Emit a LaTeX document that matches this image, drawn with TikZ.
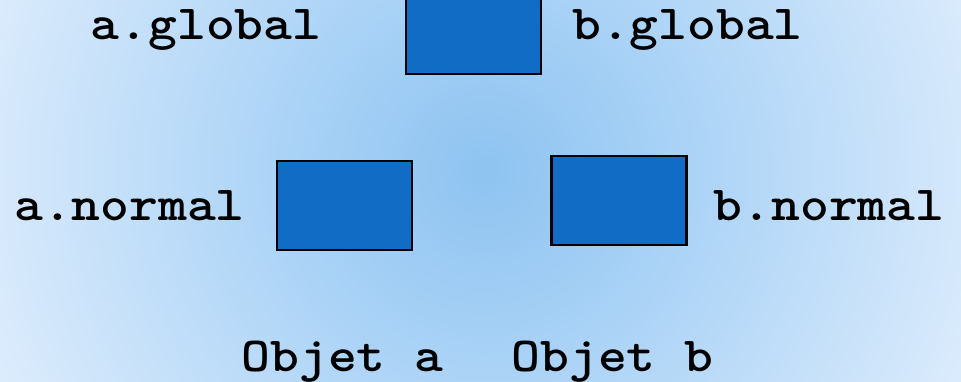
\documentclass[tikz,border=0pt]{standalone}
\usepackage{fontspec}
% bold typewriter face, widened to a Courier-like advance
\newfontfamily\codefont{lmmonolt10-bold.otf}[FakeStretch=1.12]

% colours of the slide background and of the object boxes
\definecolor{bgcenter}{HTML}{8EC3F0}
\definecolor{bgmid}{HTML}{A9D2F6}
\definecolor{bgedge}{HTML}{D5E8FB}
\definecolor{bgcorner}{HTML}{E0EFFD}
\definecolor{boxfill}{HTML}{106CC4}

% soft radial background, light towards the corners
% (25bp is the edge of the shaded circle)
\pgfdeclareradialshading{slidebg}{\pgfpoint{0bp}{0bp}}{%
  color(0bp)=(bgcenter); color(8.5bp)=(bgmid);
  color(21.4bp)=(bgedge); color(25bp)=(bgcorner); color(50bp)=(bgcorner)}

\begin{document}
\begin{tikzpicture}[x=1pt,y=-1pt,
  objbox/.style={draw=black, line width=2.2pt, fill=boxfill,
    minimum width=135pt, minimum height=89pt, inner sep=0pt},
  lbl/.style={anchor=base, inner sep=0pt, text=black,
    font=\codefont\fontsize{49}{49}\selectfont}]
  \useasboundingbox (0,0) rectangle (961,382);
  \begin{scope}
    \clip (0,0) rectangle (961,382);
    \shade[shading=slidebg] (485,170) circle (560pt);
  \end{scope}

  % variable boxes
  \node[objbox] (gbox) at (473.3,29.5) {};
  \node[objbox] (abox) at (344.2,205.5) {};
  \node[objbox] (bbox) at (619,200.4) {};

  % variable names
  \node[lbl] (aglobal) at (206,40) {a.global};
  \node[lbl] (bglobal) at (687.5,40) {b.global};
  \node[lbl] (anormal) at (129.5,221) {a.normal};
  \node[lbl] (bnormal) at (829,221) {b.normal};

  % object captions
  \node[lbl] (obja) at (342.5,371) {Objet a};
  \node[lbl] (objb) at (612.5,371) {Objet b};
\end{tikzpicture}
\end{document}
